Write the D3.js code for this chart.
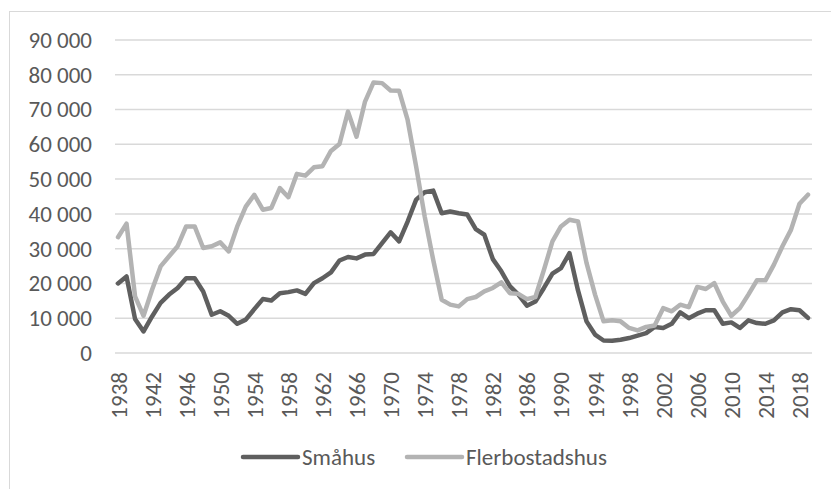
<!DOCTYPE html>
<meta charset="utf-8">
<head>
<script src="https://d3js.org/d3.v7.min.js"></script>
<style>
  body { margin: 0; background: #fff; }
  text { font-family: Carlito, "Liberation Sans", sans-serif; fill: #595959; }
</style>
</head>
<body>
<div id="my_dataviz"></div>
<script>

// years 1938 - 2019
var years = d3.range(1938, 2020);

var smahus = [
  20000, 22000, 9800, 6200, 10500, 14400, 16800, 18700, 21500, 21500,
  17700, 11000, 12000, 10700, 8400, 9600, 12600, 15500, 15100, 17200,
  17500, 18000, 17000, 20100, 21500, 23200, 26600, 27600, 27200, 28300,
  28500, 31600, 34700, 32100, 37800, 44100, 46200, 46700, 40200, 40700,
  40200, 39800, 35600, 34000, 27000, 23500, 19200, 16800, 13600, 14800,
  18700, 22800, 24400, 28700, 18000, 9100, 5300, 3600, 3500, 3800,
  4300, 5000, 5700, 7500, 7200, 8400, 11700, 10000, 11300, 12300,
  12300, 8400, 8800, 7200, 9400, 8600, 8400, 9400, 11700, 12600,
  12300, 10100
];

var flerbostadshus = [
  33300, 37200, 16300, 10700, 18200, 24900, 27800, 30700, 36400, 36400,
  30200, 30700, 31800, 29200, 36400, 42100, 45500, 41200, 41700, 47400,
  44800, 51500, 51000, 53400, 53700, 58100, 60100, 69400, 62200, 72300,
  77800, 77600, 75500, 75400, 67000, 53600, 39300, 26800, 15300, 13900,
  13400, 15500, 16100, 17700, 18700, 20300, 17200, 17000, 15500, 16100,
  23900, 32100, 36400, 38300, 37800, 25900, 16800, 9100, 9400, 9100,
  7200, 6500, 7500, 7900, 12900, 12000, 13900, 13200, 19000, 18400,
  20100, 14800, 10700, 12900, 16800, 20900, 20900, 25400, 30700, 35400,
  42900, 45500
];

var yTicks = [0, 10000, 20000, 30000, 40000, 50000, 60000, 70000, 80000, 90000];
var xTickYears = d3.range(1938, 2020, 4);

var seriesNames = ["Småhus", "Flerbostadshus"];
var seriesColors = ["#5f5f5f", "#b3b3b3"];

var width = 831, height = 489;

var svg = d3.select("#my_dataviz")
  .append("svg")
    .attr("width", width)
    .attr("height", height);

// chart border (only top/left edges fall inside the picture)
svg.append("rect")
  .attr("x", 9.5).attr("y", 11.5)
  .attr("width", 840).attr("height", 500)
  .attr("fill", "none")
  .attr("stroke", "#d9d9d9")
  .attr("stroke-width", 1);

var x = d3.scalePoint()
  .domain(years)
  .range([118, 808]);

var y = d3.scaleLinear()
  .domain([0, 90000])
  .range([353, 40]);

// gridlines
svg.append("g")
  .selectAll("line")
  .data(yTicks)
  .enter()
  .append("line")
    .attr("x1", 115).attr("x2", 812)
    .attr("y1", function(d) { return y(d) })
    .attr("y2", function(d) { return y(d) })
    .attr("stroke", "#d9d9d9")
    .attr("stroke-width", 1.5);

// y axis labels
var fmt = function(d) { return d3.format(",")(d).replace(/,/g, " ") };
var yAxis = svg.append("g")
  .attr("transform", "translate(102,0)")
  .call(d3.axisLeft(y).tickValues(yTicks).tickFormat(fmt).tickSize(0).tickPadding(10));
yAxis.select(".domain").remove();
yAxis.attr("font-family", null);
yAxis.selectAll("text")
  .style("font-size", "23px")
  .attr("fill", "#595959");

// x axis labels (rotated)
var xAxis = svg.append("g")
  .attr("transform", "translate(0,372)")
  .call(d3.axisBottom(x).tickValues(xTickYears).tickSize(0).tickPadding(0));
xAxis.select(".domain").remove();
xAxis.attr("font-family", null);
xAxis.selectAll("text")
  .style("font-size", "23px")
  .attr("fill", "#595959")
  .attr("transform", "rotate(-90)")
  .attr("text-anchor", "end")
  .attr("dominant-baseline", "central")
  .attr("dy", null)
  .attr("y", 0)
  .attr("x", 0);

// lines
var line = d3.line()
  .x(function(d, i) { return x(years[i]) })
  .y(function(d) { return y(d) });

[smahus, flerbostadshus].forEach(function(s, k) {
  svg.append("path")
    .datum(s)
    .attr("d", line)
    .attr("fill", "none")
    .attr("stroke", seriesColors[k])
    .attr("stroke-width", 4.5)
    .attr("stroke-linejoin", "round")
    .attr("stroke-linecap", "round");
});

// legend
var legendX = [243, 407];
var leg = svg.append("g");
seriesNames.forEach(function(name, k) {
  leg.append("line")
    .attr("x1", legendX[k]).attr("x2", legendX[k] + 55)
    .attr("y1", 457).attr("y2", 457)
    .attr("stroke", seriesColors[k])
    .attr("stroke-width", 4.5)
    .attr("stroke-linecap", "round");
  leg.append("text")
    .attr("x", legendX[k] + 59)
    .attr("y", 457)
    .attr("dominant-baseline", "central")
    .style("font-size", "23px")
    .text(name);
});

</script>
</body>
